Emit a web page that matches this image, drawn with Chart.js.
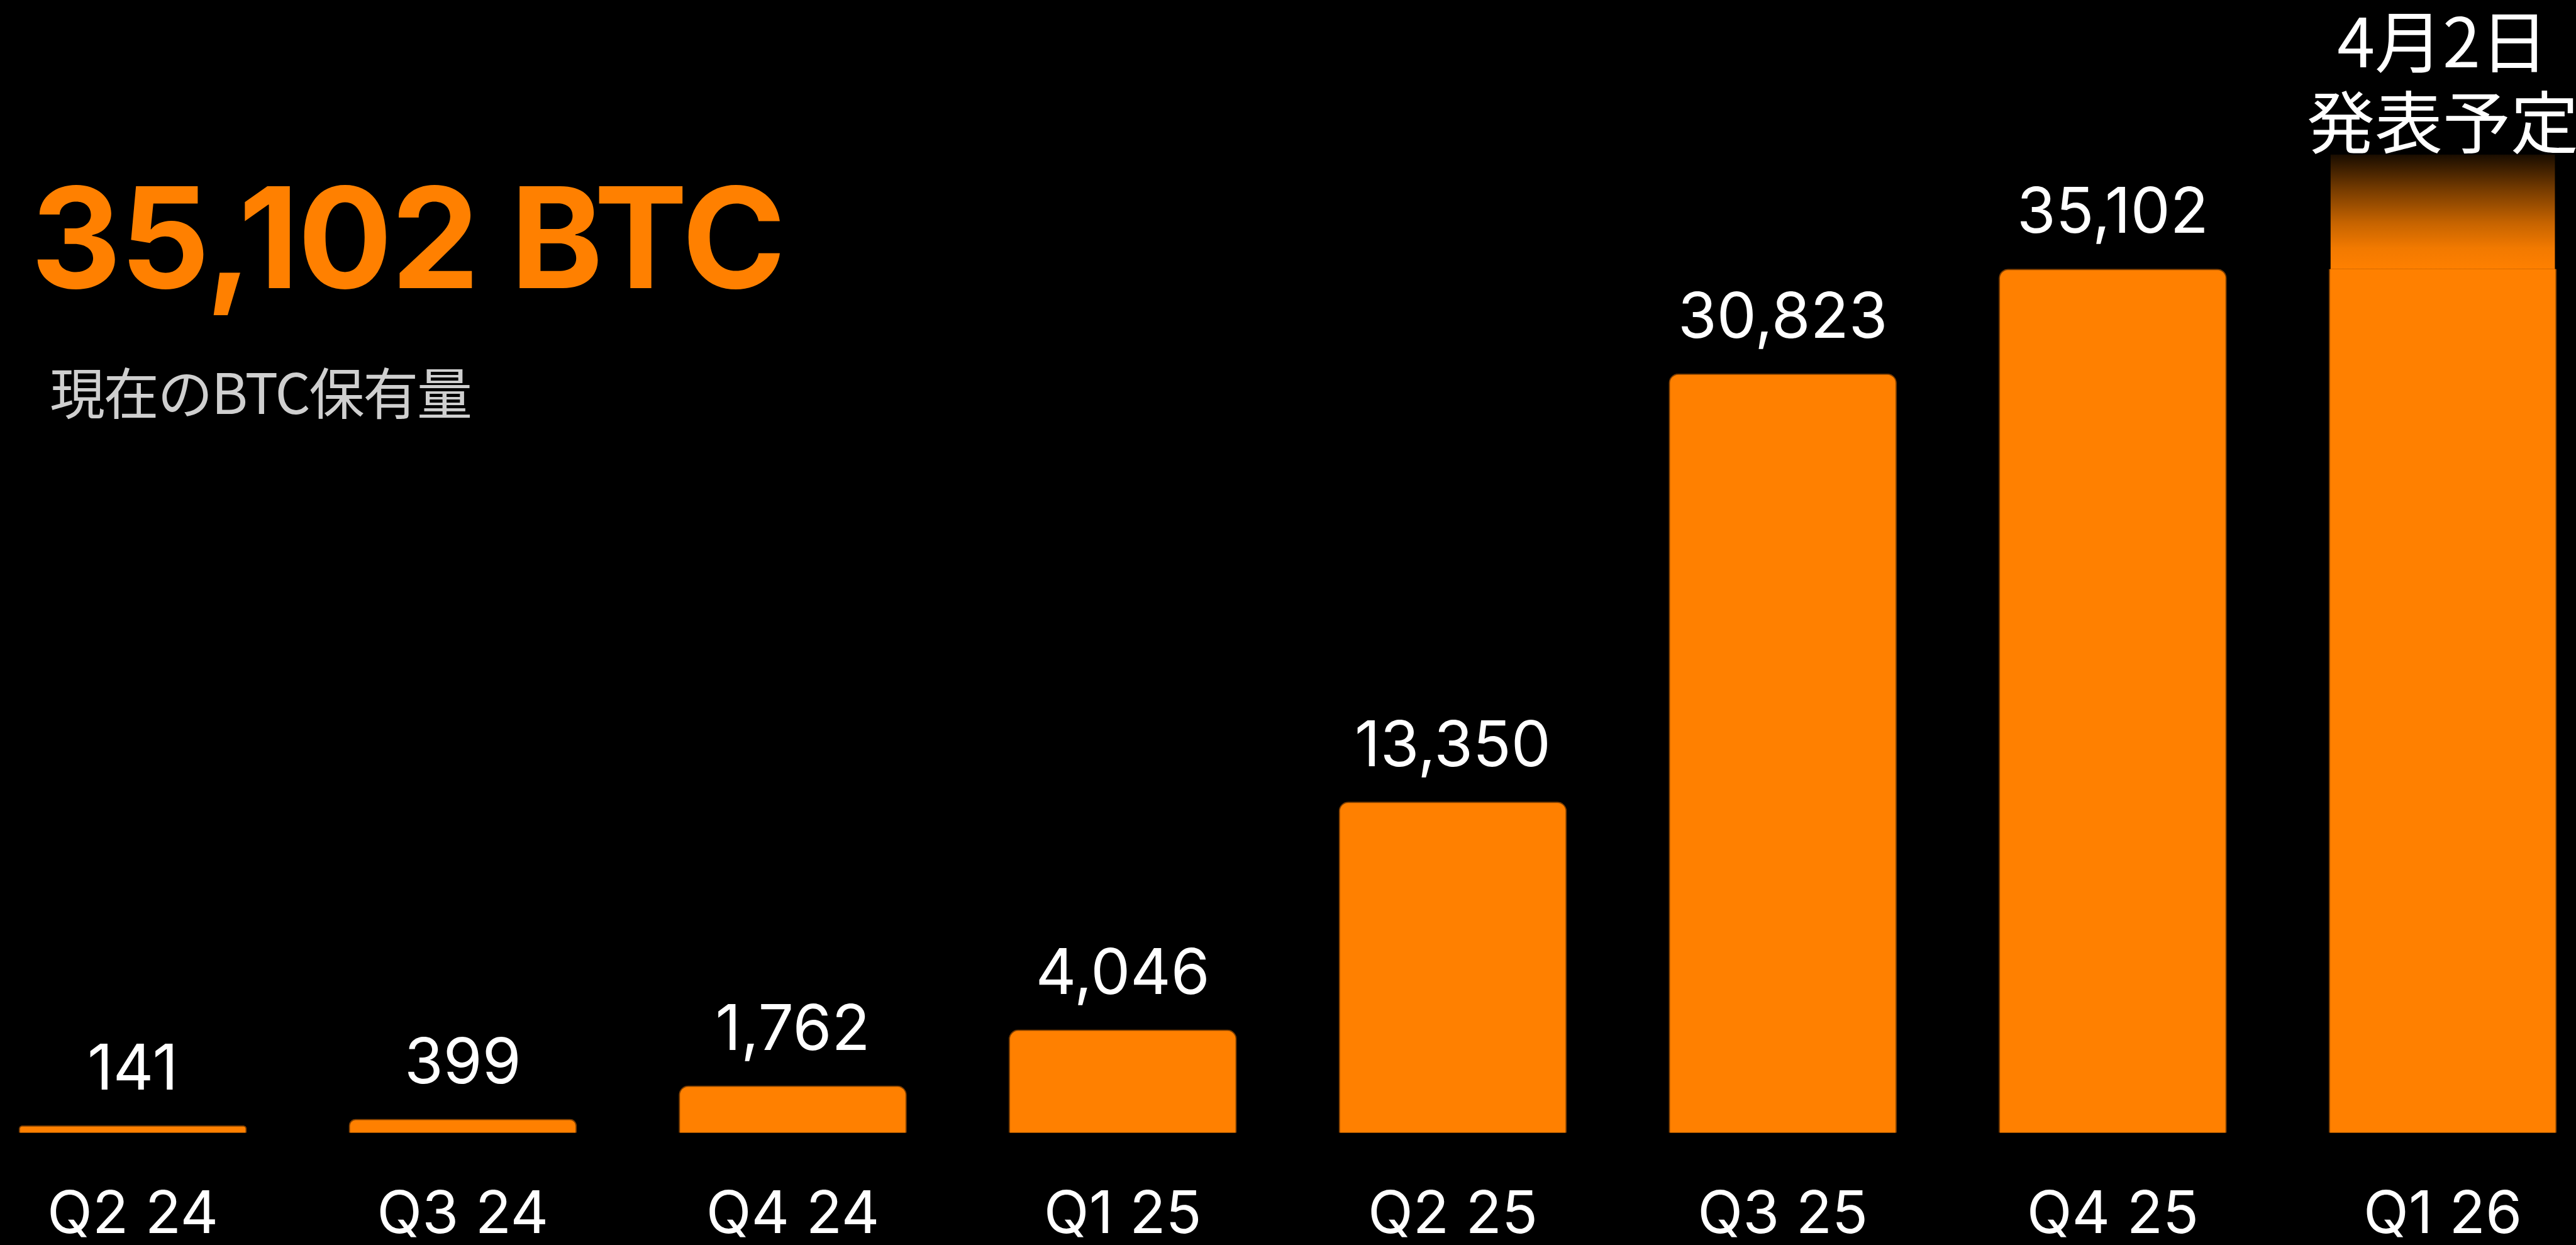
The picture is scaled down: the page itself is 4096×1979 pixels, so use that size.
<!DOCTYPE html>
<html lang="ja">
<head>
<meta charset="utf-8">
<title>現在のBTC保有量</title>
<script src="https://cdn.jsdelivr.net/npm/chart.js@4.4.1/dist/chart.umd.min.js"></script>
<style>
  html, body { margin: 0; padding: 0; background: #000; overflow: hidden; }
  #wrap { position: relative; width: 4096px; height: 1979px; background: #000; }
</style>
</head>
<body>
<div id="wrap"><canvas id="chart"></canvas></div>
<script>
// Quarter-end bitcoin holdings (BTC)
const quarters = ['Q2 24', 'Q3 24', 'Q4 24', 'Q1 25', 'Q2 25', 'Q3 25', 'Q4 25', 'Q1 26'];
const holdings = [141, 399, 1762, 4046, 13350, 30823, 35102, 35102];
// Q1 26 is not reported yet: a faded block sits on top of the current total
const pendingBlock = [null, null, null, null, null, null, null, 4660];
const headlineValue = 35102;
const headlineUnit = 'BTC';
const subtitleText = '現在のBTC保有量';
const pendingNote = ['4月2日', '発表予定'];

const ORANGE = '#ff8000';
const EDGE = '#7a3c00';
const fmt = v => v.toLocaleString('en-US');
const isPending = i => pendingBlock[i] != null;

// Headline, subtitle, value labels and the pending-release note
const annotations = {
  id: 'annotations',
  afterDatasetsDraw(chart) {
    const { ctx } = chart;
    ctx.save();

    // value labels over the reported bars
    const meta = chart.getDatasetMeta(0);
    ctx.fillStyle = '#ffffff';
    ctx.textAlign = 'center';
    ctx.textBaseline = 'alphabetic';
    ctx.font = '400 100px Inter';
    meta.data.forEach((bar, i) => {
      if (isPending(i)) return;
      ctx.fillText(fmt(holdings[i]), bar.x, bar.y - 57);
    });

    // two-line note above the pending block
    const pm = chart.getDatasetMeta(1);
    pendingBlock.forEach((v, i) => {
      if (v == null) return;
      const el = pm.data[i];
      ctx.font = '400 108px "Noto Sans CJK JP"';
      ctx.textAlign = 'center';
      const bottoms = [el.y - 129, el.y - 1];
      pendingNote.forEach((line, k) => {
        const m = ctx.measureText(line);
        ctx.fillText(line, el.x, bottoms[k] - m.actualBoundingBoxDescent);
      });
    });

    // headline figure
    drawFitted(ctx, fmt(headlineValue) + ' ' + headlineUnit, '700 223px Inter', ORANGE, 59, 1240.5, 294);
    // subtitle
    drawFitted(ctx, subtitleText, '400 88px "Noto Sans CJK JP"', '#cfcfcf', 81, 748, 584);

    ctx.restore();
  }
};

// Draws text so that its ink spans [left, right]; the ink top sits at `top`
function drawFitted(ctx, text, font, color, left, right, top) {
  ctx.save();
  ctx.font = font;
  ctx.fillStyle = color;
  ctx.textAlign = 'left';
  ctx.textBaseline = 'alphabetic';
  let m = ctx.measureText(text);
  const ink = m.actualBoundingBoxLeft + m.actualBoundingBoxRight;
  const target = right - left;
  const n = [...text].length;
  if ('letterSpacing' in ctx && n > 1) {
    ctx.letterSpacing = ((target - ink) / (n - 1)).toFixed(2) + 'px';
    m = ctx.measureText(text);
    ctx.fillText(text, left + m.actualBoundingBoxLeft, top + m.actualBoundingBoxAscent);
  } else {
    const sx = target / ink;
    ctx.translate(left, top + m.actualBoundingBoxAscent);
    ctx.scale(sx, 1);
    ctx.fillText(text, m.actualBoundingBoxLeft, 0);
  }
  ctx.restore();
}

function pendingFill(c) {
  const { chart } = c;
  const { ctx, chartArea, scales } = chart;
  const v = pendingBlock[c.dataIndex];
  if (!chartArea || v == null) return 'rgba(255,128,0,0.5)';
  const top = scales.y.getPixelForValue(holdings[c.dataIndex] + v);
  const bottom = scales.y.getPixelForValue(holdings[c.dataIndex]);
  const g = ctx.createLinearGradient(0, top, 0, bottom);
  g.addColorStop(0, 'rgba(255,128,0,0.10)');
  g.addColorStop(0.3, 'rgba(255,128,0,0.46)');
  g.addColorStop(0.6, 'rgba(255,128,0,0.78)');
  g.addColorStop(0.82, 'rgba(255,128,0,0.95)');
  g.addColorStop(1, 'rgba(255,128,0,1)');
  return g;
}

new Chart(document.getElementById('chart'), {
  type: 'bar',
  data: {
    datasets: [
      {
        label: 'BTC保有量',
        data: holdings.map((v, i) => ({ x: i, y: v })),
        base: -160,
        backgroundColor: ORANGE,
        borderColor: EDGE,
        borderWidth: c => (isPending(c.dataIndex) ? { top: 0, left: 2, right: 2, bottom: 0 } : 2),
        borderSkipped: 'start',
        borderRadius: c => (isPending(c.dataIndex) ? 0 : { topLeft: 15, topRight: 15, bottomLeft: 0, bottomRight: 0 }),
        barThickness: 362
      },
      {
        label: '発表予定',
        data: pendingBlock.map((v, i) => ({ x: i, y: v })),
        backgroundColor: pendingFill,
        borderWidth: 0,
        barThickness: 356
      }
    ]
  },
  options: {
    responsive: true,
    maintainAspectRatio: false,
    devicePixelRatio: 1,
    animation: false,
    events: [],
    layout: { padding: 0 },
    plugins: { legend: { display: false }, tooltip: { enabled: false }, title: { display: false } },
    scales: {
      x: {
        type: 'linear',
        min: -0.3833,
        max: 7.4038,
        offset: false,
        stacked: true,
        grid: { display: false, drawTicks: false },
        border: { display: false },
        afterBuildTicks: s => { s.ticks = quarters.map((_, i) => ({ value: i })); },
        afterFit: s => { s.height = 178.3; },
        ticks: {
          color: '#ffffff',
          font: { family: 'Inter', size: 94, weight: '400', lineHeight: 1.2 },
          padding: 75,
          autoSkip: false,
          maxRotation: 0,
          minRotation: 0,
          callback: v => quarters[v] ?? ''
        }
      },
      y: {
        display: false,
        stacked: true,
        min: -160,
        max: 46079
      }
    }
  },
  plugins: [annotations]
});
</script>
</body>
</html>
